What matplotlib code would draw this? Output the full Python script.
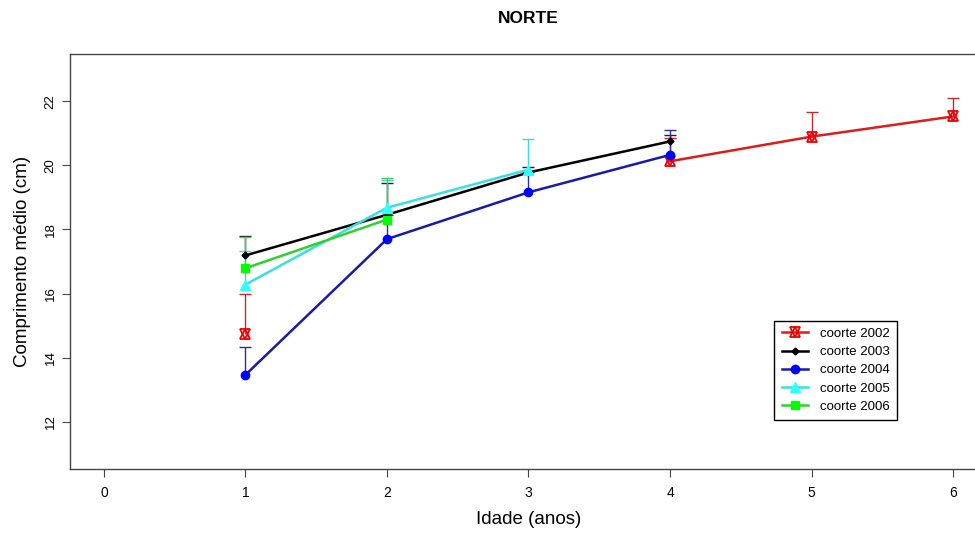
import numpy as np
import matplotlib
matplotlib.use('Agg')
import matplotlib.pyplot as plt

plt.rcParams['font.family'] = ['Liberation Sans', 'DejaVu Sans']

# idade (anos)
idade = [1, 2, 3, 4, 5, 6]
# mean length (cm) per cohort, nan where missing
c2002 = [14.75, np.nan, np.nan, 20.13, 20.90, 21.53]
c2003 = [17.19, 18.46, 19.78, 20.75, np.nan, np.nan]
c2004 = [13.46, 17.70, 19.16, 20.33, np.nan, np.nan]
c2005 = [16.28, 18.68, 19.87, np.nan, np.nan, np.nan]
c2006 = [16.79, 18.31, np.nan, np.nan, np.nan, np.nan]
# upper end of the error bars
sup2002 = [16.00, np.nan, np.nan, 20.87, 21.67, 22.10]
sup2003 = [17.80, 19.45, 19.95, 20.95, np.nan, np.nan]
sup2004 = [14.32, 18.45, 19.80, 21.12, np.nan, np.nan]
sup2005 = [17.32, 19.53, 20.81, np.nan, np.nan, np.nan]
sup2006 = [17.78, 19.62, np.nan, np.nan, np.nan, np.nan]
nomes = ['coorte 2002', 'coorte 2003', 'coorte 2004', 'coorte 2005', 'coorte 2006']

fig = plt.figure(figsize=(9.75, 5.34), dpi=100)
ax = fig.add_axes([70/975, 65/534, 917/975, 415/534])

# error bars first (under the markers)
errs = [(c2002, sup2002, '#b83030'), (c2003, sup2003, '#222222'),
        (c2004, sup2004, '#303090'), (c2005, sup2005, '#40d8d8'),
        (c2006, sup2006, '#50c850')]
for y, sup, col in errs:
    ax.vlines(idade, y, sup, color=col, lw=1)
    ax.plot(idade, sup, ls='none', marker='_', ms=9, mew=1, color=col)

# coorte 2002: star of David (two triangles)
ax.plot(idade, c2002, color='#dd1c1c', lw=1.8)
h1 = ax.plot(idade, c2002, ls='none', marker='^', ms=7.5, mfc='none', mec='#ee0000', mew=1.3)[0]
h2 = ax.plot(idade, c2002, ls='none', marker='v', ms=7.5, mfc='none', mec='#ee0000', mew=1.3)[0]
l2002 = plt.Line2D([], [], color='#dd1c1c', lw=1.8)

l2003 = ax.plot(idade, c2003, color='black', lw=1.8, marker='D', ms=3.5)[0]
l2004 = ax.plot(idade, c2004, color='#1a1aa8', lw=1.8, marker='o', ms=6,
                mfc='#0000ff', mec='#0000ff')[0]
l2005 = ax.plot(idade, c2005, color='#38e0e0', lw=1.8, marker='^', ms=7,
                mfc='#30ffff', mec='#30ffff')[0]
l2006 = ax.plot(idade, c2006, color='#30d030', lw=1.8, marker='s', ms=6,
                mfc='#00ff00', mec='#00ff00')[0]

ax.set_xlim(-0.24, 6.24)
ax.set_ylim(10.52, 23.48)
ax.set_xticks(range(0, 7))
ax.set_yticks(range(12, 23, 2))
ax.tick_params(axis='y', labelrotation=90, labelsize=9.5, length=6, color='#444444')
ax.tick_params(axis='x', labelsize=10, length=6, color='#444444', pad=6)
for lab in ax.get_yticklabels():
    lab.set_va('center')
for s in ax.spines.values():
    s.set_color('#444444')
    s.set_linewidth(1)

ax.set_xlabel('Idade (anos)', fontsize=13.5, labelpad=8)
ax.set_ylabel('Comprimento médio (cm)', fontsize=13.5, labelpad=10)
ax.set_title('NORTE', fontsize=12.5, fontweight='bold', pad=22)

leg = ax.legend([(l2002, h1, h2), l2003, l2004, l2005, l2006], nomes,
                loc='lower left', bbox_to_anchor=(0.768, 0.118), fontsize=9.5,
                frameon=True, fancybox=False, edgecolor='black', framealpha=1,
                handlelength=2.0, borderpad=0.55, labelspacing=0.45,
                handletextpad=0.9, borderaxespad=0)
leg.get_frame().set_linewidth(1)

fig.savefig('out.png', dpi=100)
